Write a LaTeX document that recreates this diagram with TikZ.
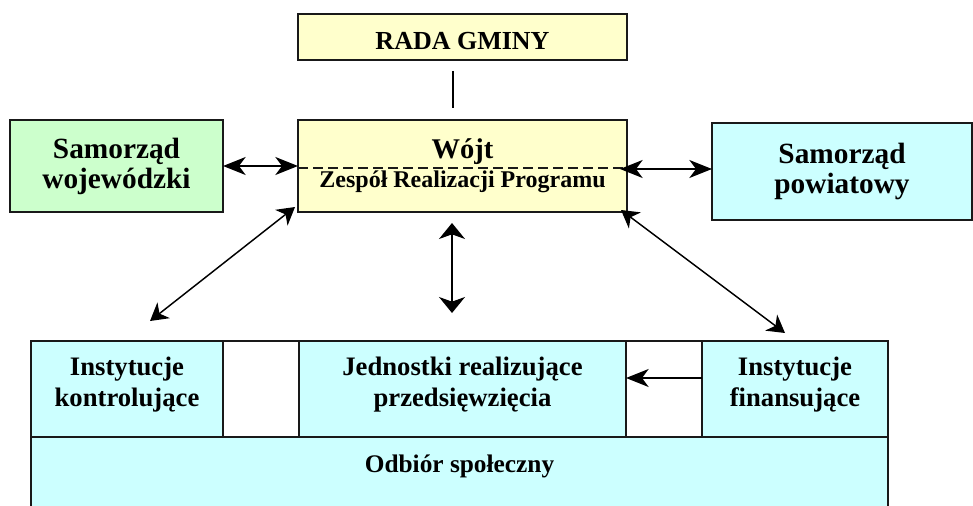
\documentclass[tikz,border=0pt]{standalone}
\usepackage{fontspec}
\setmainfont{Liberation Serif}
\usetikzlibrary{arrows.meta,calc}
\definecolor{boxyellow}{RGB}{255,255,204}
\definecolor{boxgreen}{RGB}{204,255,204}
\definecolor{boxcyan}{RGB}{204,255,255}
\definecolor{edge}{RGB}{25,25,25}
% deeper last line, lifts a two-line label a little inside its box
\newcommand{\liftstrut}{\rule[-10.5pt]{0pt}{0pt}}
\begin{document}
\begin{tikzpicture}[x=0.75pt,y=-0.75pt,
  box/.style={draw=edge,line width=1.2pt,inner sep=0pt,outer sep=0pt,align=center},
  hhead/.tip={Stealth[length=17pt,width=13.5pt,inset=5pt]},
  vhead/.tip={Stealth[length=12pt,width=19.5pt,inset=3.5pt]},
  dhead/.tip={Stealth[length=13pt,width=15pt,inset=4pt]},
  harr/.style={line width=1.1pt,arrows={hhead-hhead}},
  harrone/.style={line width=1.1pt,arrows={-hhead}},
  varr/.style={line width=1.1pt,arrows={vhead-vhead}},
  darr/.style={line width=1.1pt,arrows={dhead-dhead}},
  rowfont/.style={font=\bfseries\fontsize{20}{23}\selectfont},
  sidefont/.style={font=\bfseries\fontsize{22}{22.5}\selectfont}]
\useasboundingbox (0,0) rectangle (973,506);

% top boxes
\node[box,fill=boxyellow,minimum width=246.75pt,minimum height=34.5pt,
      text height=19.5pt,text depth=0pt,font=\bfseries\fontsize{19.5}{23}\selectfont]
      (rada) at (462.5,37) {RADA GMINY};
\node[box,fill=boxyellow,minimum width=246.75pt,minimum height=69pt,
      font=\bfseries\fontsize{18}{21.75}\selectfont]
      (wojt) at (462.5,166) {{\fontsize{21.4}{21.75}\selectfont Wójt}\\Zespół Realizacji Programu};
\node[box,fill=boxgreen,minimum width=159.75pt,minimum height=69pt,sidefont]
      (sw) at (116.5,166) {Samorząd\\wojewódzki};
\node[box,fill=boxcyan,minimum width=195pt,minimum height=72.75pt,sidefont]
      (sp) at (842,171.5) {Samorząd\\powiatowy};

% bottom block
\node[box,fill=boxcyan,minimum width=642.75pt,minimum height=53.25pt,
      text height=13pt,text depth=12.3pt,font=\bfseries\fontsize{19}{22}\selectfont]
      (odb) at (459.5,472.5) {Odbiór społeczny};
\node[box,fill=boxcyan,minimum width=144pt,minimum height=72pt,rowfont]
      (kon) at (127,389) {Instytucje\\kontrolujące\liftstrut};
\node[box,fill=white,minimum width=57pt,minimum height=72pt] (gapl) at (261,389) {};
\node[box,fill=boxcyan,minimum width=245.25pt,minimum height=72pt,rowfont]
      (jed) at (462.5,389) {Jednostki realizujące\\przedsięwzięcia\liftstrut};
\node[box,fill=white,minimum width=57pt,minimum height=72pt] (gapr) at (664,389) {};
\node[box,fill=boxcyan,minimum width=139.5pt,minimum height=72pt,rowfont]
      (fin) at (795,389) {Instytucje\\finansujące\liftstrut};

% dashed divider inside the Wójt box
\coordinate (dashy) at (0,168);
\draw[edge,line width=1.1pt,dash pattern=on 7.5pt off 3.75pt]
      (wojt.west |- dashy) -- (wojt.east |- dashy);

% link between the council and the Wójt
\coordinate (lt) at (453,71);
\coordinate (lb) at (453,108);
\draw[line width=0.9pt] (lt) -- (lb);

% connectors
\draw[harr] (sw.east) -- (sw.east -| wojt.west);
\coordinate (ry) at (0,169);
\draw[harr] ($(wojt.east |- ry)+(-7,0)$) -- (sp.west |- ry);
\coordinate (dl) at (150,321);
\draw[darr] (dl) -- ($(wojt.south west)+(-3,-5)$);
\coordinate (vt) at (452,223);
\coordinate (vb) at (452,313);
\draw[varr] (vt) -- (vb);
\coordinate (dr) at (785,333);
\draw[darr] ($(wojt.south east)+(-6,-2)$) -- (dr);
\coordinate (fy) at (0,378);
\draw[harrone] (fin.west |- fy) -- (jed.east |- fy);
\end{tikzpicture}
\end{document}
